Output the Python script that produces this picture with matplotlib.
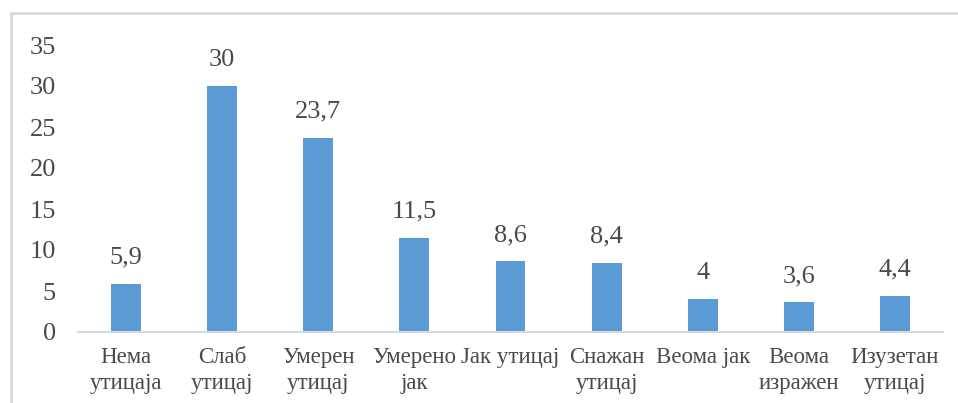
import matplotlib
matplotlib.use("Agg")
import matplotlib.pyplot as plt
from matplotlib.patches import Rectangle

categories = ["Нема\nутицаја", "Слаб\nутицај", "Умерен\nутицај", "Умерено\nјак",
              "Јак утицај", "Снажан\nутицај", "Веома јак", "Веома\nизражен", "Изузетан\nутицај"]
values = [5.9, 30, 23.7, 11.5, 8.6, 8.4, 4, 3.6, 4.4]
labels = ["5,9", "30", "23,7", "11,5", "8,6", "8,4", "4", "3,6", "4,4"]
yticks = [0, 5, 10, 15, 20, 25, 30, 35]

plt.rcParams['font.family'] = ['Liberation Serif', 'DejaVu Serif']
txt = '#4a4a4a'
grid = '#D9D9D9'

fig = plt.figure(figsize=(9.58, 4.03), dpi=100)
ax = fig.add_axes([78/958, 1-332/403, (943-78)/958, (332-45)/403])
x = list(range(len(categories)))
ax.bar(x, values, width=0.31, color='#5B9BD5')
ax.set_xlim(-0.5, len(categories)-0.5)
ax.set_ylim(0, 35)
ax.set_yticks(yticks)
ax.set_yticklabels([str(t) for t in yticks])
ax.set_xticks(x)
ax.set_xticklabels(categories, va='top', linespacing=1.3)
ax.tick_params(axis='y', length=0, pad=16, labelsize=19, labelcolor=txt)
ax.tick_params(axis='x', length=0, pad=11, labelsize=16.5, labelcolor=txt)
for s in ['top', 'right', 'left']:
    ax.spines[s].set_visible(False)
ax.spines['bottom'].set_color(grid)
ax.spines['bottom'].set_linewidth(1.5)
for xi, v, l in zip(x, values, labels):
    ax.annotate(l, (xi, v), xytext=(0, 11), textcoords='offset points',
                ha='center', va='bottom', fontsize=19, color=txt)

fig.patches.append(Rectangle((11/958, -0.1), 1.1, 1-13/403+0.1, transform=fig.transFigure,
                             fill=False, edgecolor=grid, linewidth=2))
fig.savefig('out.png', dpi=100)
